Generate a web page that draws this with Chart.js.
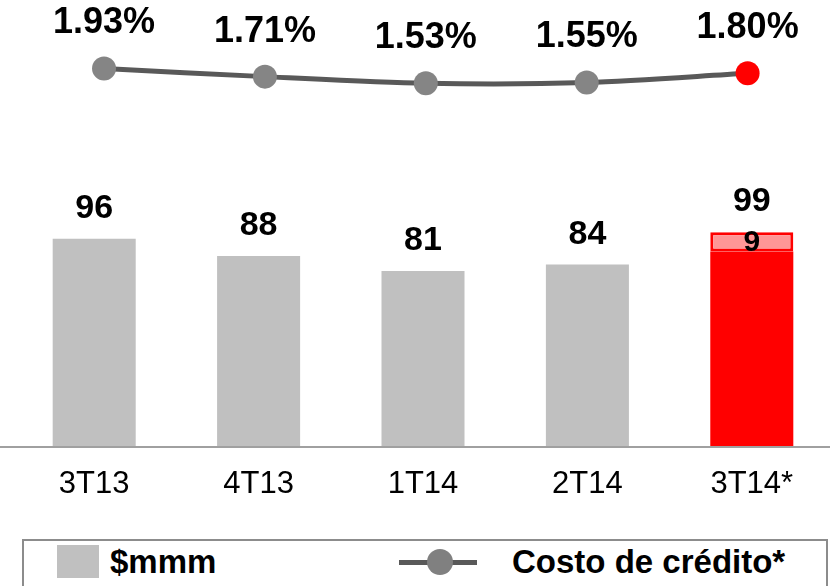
<!DOCTYPE html>
<html>
<head>
<meta charset="utf-8">
<script src="https://cdn.jsdelivr.net/npm/chart.js@4"></script>
<style>
  html, body { margin: 0; padding: 0; background: #fff; overflow: hidden; width: 830px; height: 586px; }
  #wrap { position: absolute; left: 0; top: 0; width: 846px; height: 530px; }
  #legend { position: absolute; left: 22px; top: 539px; width: 806px; height: 60px; border: 2px solid #8c8c8c; box-sizing: border-box;
            font-family: "Liberation Sans", Arial, sans-serif; font-weight: bold; font-size: 33px; color: #000; }
  .sq { position: absolute; left: 33px; top: 4px; width: 42px; height: 33px; background: #c0c0c0; }
  .lbl { position: absolute; top: 1px; line-height: 40px; }
  .ln { position: absolute; left: 375px; top: 19px; width: 78px; height: 5px; background: #595959; }
  .dot { position: absolute; left: 403px; top: 8px; width: 26px; height: 26px; border-radius: 50%; background: #808080; }
</style>
</head>
<body>
<div id="wrap"><canvas id="chart" width="846" height="530"></canvas></div>
<div id="legend">
  <div class="sq"></div><div class="lbl" style="left:86px">$mmm</div>
  <div class="ln"></div><div class="dot"></div>
  <div class="lbl" style="left:488px">Costo de crédito*</div>
</div>
<script>
const quarters = ['3T13', '4T13', '1T14', '2T14', '3T14*'];
const amount = [96, 88, 81, 84, 90];
const extra = [null, null, null, null, 9];
const totals = [96, 88, 81, 84, 99];
const creditCost = [1.93, 1.71, 1.53, 1.55, 1.80];

const FONT = '"Liberation Sans", Arial, sans-serif';
const barColors = ['#c0c0c0', '#c0c0c0', '#c0c0c0', '#c0c0c0', '#ff0000'];
const pointColors = ['#858585', '#858585', '#858585', '#858585', '#ff0000'];

// the extra part sits on top of the base amount
const extraRange = extra.map((v, i) => v == null ? null : [amount[i], amount[i] + v]);

const labelsPlugin = {
  id: 'labels',
  afterDatasetsDraw(chart) {
    const c = chart.ctx;
    const xs = chart.scales.x, ys = chart.scales.y;
    c.save();
    // axis line across the whole width
    const y0 = ys.getPixelForValue(0);
    c.strokeStyle = '#a0a0a0';
    c.lineWidth = 2;
    c.beginPath();
    c.moveTo(0, y0 + 1);
    c.lineTo(chart.width, y0 + 1);
    c.stroke();

    c.fillStyle = '#000';
    c.textAlign = 'center';
    c.textBaseline = 'alphabetic';
    c.font = 'bold 34px ' + FONT;
    totals.forEach((v, i) => {
      c.fillText(String(v), xs.getPixelForValue(i), ys.getPixelForValue(v) - 21);
    });
    // inner segment value
    const meta1 = chart.getDatasetMeta(1);
    extra.forEach((v, i) => {
      if (v == null) return;
      const bar = meta1.data[i];
      c.font = 'bold 30px ' + FONT;
      c.textBaseline = 'middle';
      c.fillText(String(v), bar.x, (bar.y + bar.base) / 2 + 1);
    });
    // percentages above line points
    const meta2 = chart.getDatasetMeta(2);
    c.font = 'bold 36px ' + FONT;
    c.textBaseline = 'middle';
    creditCost.forEach((v, i) => {
      const p = meta2.data[i];
      c.fillText(v.toFixed(2) + '%', p.x, p.y - 45);
    });
    c.restore();
  }
};

new Chart(document.getElementById('chart'), {
  data: {
    labels: quarters,
    datasets: [
      { type: 'bar', data: amount, backgroundColor: barColors, grouped: false, order: 3,
        barPercentage: 0.505, categoryPercentage: 1 },
      { type: 'bar', data: extraRange, backgroundColor: '#ff9696', borderColor: '#ff0000', borderWidth: 3,
        borderSkipped: false, grouped: false, order: 2, barPercentage: 0.505, categoryPercentage: 1 },
      { type: 'line', data: creditCost.map((v, i) => ({ x: i, y: v })), xAxisID: 'x2', yAxisID: 'y2',
        borderColor: '#595959', borderWidth: 5, tension: 0.3, order: 1,
        pointRadius: 12, pointHoverRadius: 12, pointBorderWidth: 0,
        pointBackgroundColor: pointColors }
    ]
  },
  options: {
    responsive: false,
    animation: false,
    layout: { autoPadding: false, padding: { left: 12, right: 12, top: 0, bottom: 0 } },
    plugins: { legend: { display: false }, tooltip: { enabled: false } },
    scales: {
      x: { type: 'category', offset: true, grid: { display: false }, border: { display: false },
           ticks: { color: '#000', padding: 12, font: { family: FONT, size: 31 } },
           afterFit(s) { s.height = 84; } },
      y: { type: 'linear', display: false, min: 0, max: 206.5 },
      x2: { type: 'linear', position: 'bottom', offset: false, display: false, min: -0.572, max: 4.537 },
      y2: { type: 'linear', display: false, min: -8.273, max: 3.781 }
    }
  },
  plugins: [labelsPlugin]
});
</script>
</body>
</html>
